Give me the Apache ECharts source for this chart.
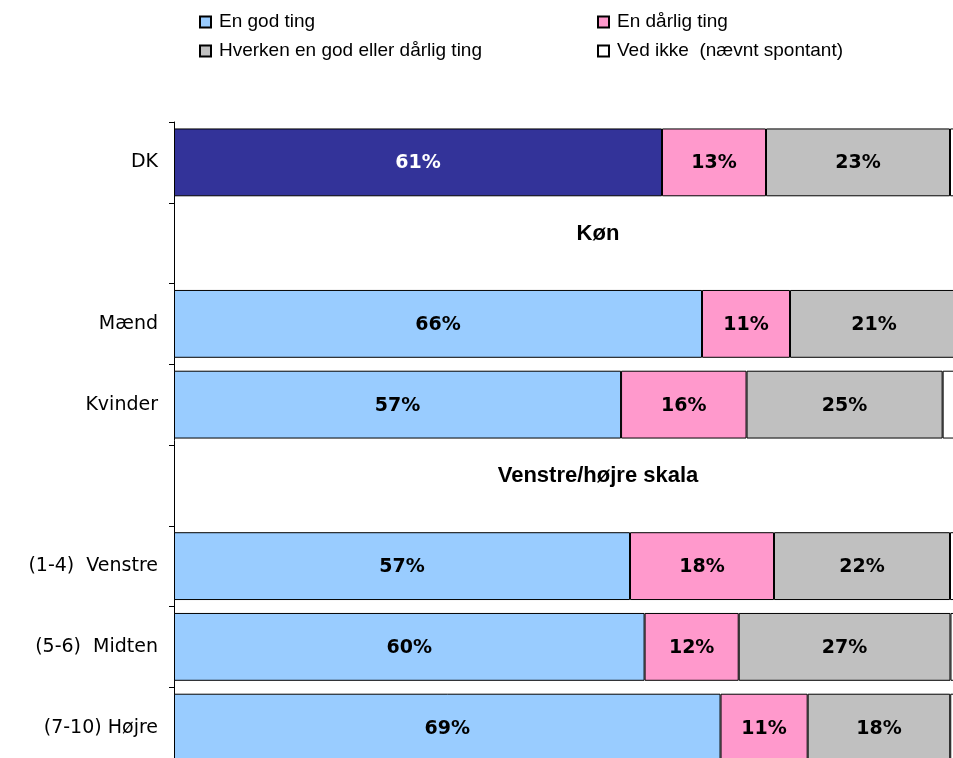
<!DOCTYPE html>
<html>
<head>
<meta charset="utf-8">
<script src="https://cdn.jsdelivr.net/npm/echarts@6/dist/echarts.min.js"></script>
<style>
  html, body { margin: 0; padding: 0; background: #fff; }
  #main { width: 953px; height: 758px; }
</style>
</head>
<body>
<div id="main"></div>
<script>
// kategorier (overskriftsrækker har ingen søjler)
var categories = ['DK', 'Køn', 'Mænd', 'Kvinder', 'Venstre/højre skala', '(1-4)  Venstre', '(5-6)  Midten', '(7-10) Højre'];
var headers = ['Køn', 'Venstre/højre skala'];

// andele i procent, som de står i søjlerne
var god     = [61, null, 66, 57, null, 57, 60, 69];
var daarlig = [13, null, 11, 16, null, 18, 12, 11];
var hverken = [23, null, 21, 25, null, 22, 27, 18];
var vedIkke = [3,  null, 2,  4,  null, 3,  3,  3];

var seriesNames = ['En god ting', 'En dårlig ting', 'Hverken en god eller dårlig ting', 'Ved ikke  (nævnt spontant)'];
var raw = [god, daarlig, hverken, vedIkke];
var colors = ['#99CCFF', '#FF99CC', '#C0C0C0', '#FFFFFF'];

// 100% stablet: hver række skaleres til summen
var sums = categories.map(function (c, i) {
  if (god[i] == null) return null;
  return god[i] + daarlig[i] + hverken[i] + vedIkke[i];
});

var myChart = echarts.init(document.getElementById('main'));

var series = raw.map(function (arr, s) {
  return {
    name: seriesNames[s],
    type: 'bar',
    stack: 'total',
    barCategoryGap: '16%',
    itemStyle: { color: colors[s], borderColor: '#000', borderWidth: 1 },
    label: {
      show: s < 3,
      position: 'inside',
      offset: [0, 1],
      color: '#000',
      fontFamily: 'DejaVu Sans',
      fontWeight: 'bold',
      fontSize: 19,
      formatter: function (p) { return arr[p.dataIndex] + '%'; }
    },
    data: arr.map(function (v, i) {
      if (v == null) return '-';
      var item = { value: v / sums[i] * 100 };
      if (s === 0 && i === 0) {
        item.itemStyle = { color: '#333399' };
        item.label = { color: '#fff' };
      }
      return item;
    })
  };
});

// overskrifter i de tomme rækker
series.push({
  type: 'scatter',
  silent: true,
  symbolSize: 0,
  itemStyle: { opacity: 1 },
  label: {
    show: true,
    position: 'inside',
    offset: [0, -9],
    formatter: '{b}',
    color: '#000',
    fontFamily: 'Liberation Sans',
    fontWeight: 'bold',
    fontSize: 22
  },
  data: headers.map(function (h) { return { name: h, value: [53, h] }; })
});

var legendBase = {
  orient: 'vertical',
  top: 12,
  padding: 0,
  itemWidth: 11,
  itemHeight: 11,
  itemGap: 9,
  icon: 'rect',
  selectedMode: false,
  textStyle: { fontFamily: 'Liberation Sans', fontSize: 19, lineHeight: 20, color: '#000', padding: [0, 0, 0, 3] }
};

var option = {
  animation: false,
  backgroundColor: '#fff',
  legend: [
    Object.assign({}, legendBase, { left: 199, data: [seriesNames[0], seriesNames[2]] }),
    Object.assign({}, legendBase, { left: 597, data: [seriesNames[1], seriesNames[3]] })
  ],
  grid: { left: 174, top: 122, width: 800, height: 646, outerBoundsMode: 'none' },
  xAxis: { type: 'value', min: 0, max: 100, show: false },
  yAxis: {
    type: 'category',
    inverse: true,
    data: categories,
    axisLine: { show: true, lineStyle: { color: '#000', width: 1 } },
    axisTick: { show: true, length: 5, lineStyle: { color: '#000' } },
    axisLabel: {
      margin: 16,
      color: '#000',
      fontFamily: 'DejaVu Sans',
      fontSize: 19,
      formatter: function (v) { return headers.indexOf(v) >= 0 ? '' : v; }
    },
    splitLine: { show: false }
  },
  series: series
};

myChart.setOption(option);
</script>
</body>
</html>
